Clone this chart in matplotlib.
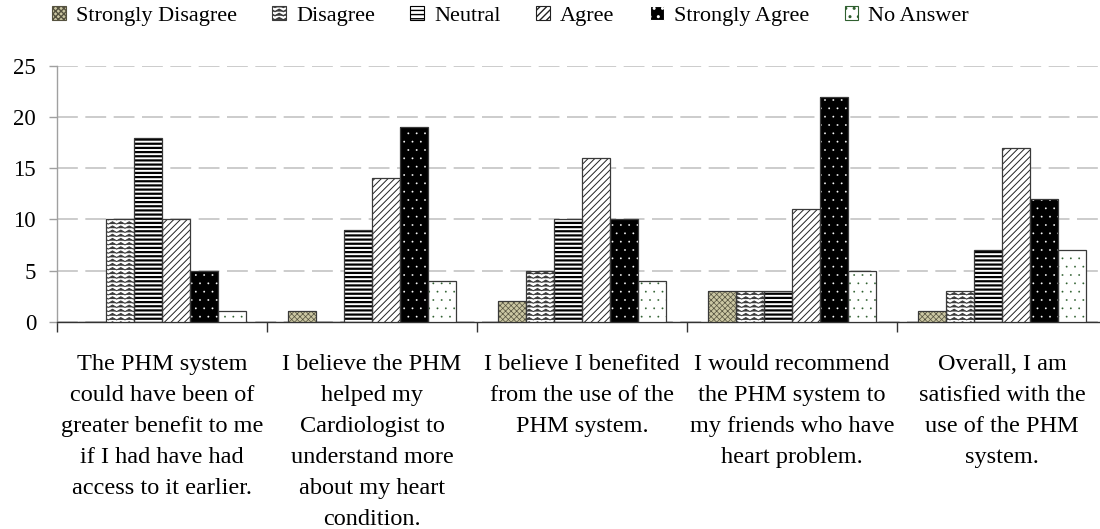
import warnings

import matplotlib

matplotlib.use("Agg")

import matplotlib.hatch as mhatch
import matplotlib.pyplot as plt
import numpy as np
from matplotlib.patches import Patch
from matplotlib.path import Path

warnings.filterwarnings("ignore")

categories = [
    "The PHM system\ncould have been of\ngreater benefit to me\nif I had have had\naccess to it earlier.",
    "I believe the PHM\nhelped my\nCardiologist to\nunderstand more\nabout my heart\ncondition.",
    "I believe I benefited\nfrom the use of the\nPHM system.",
    "I would recommend\nthe PHM system to\nmy friends who have\nheart problem.",
    "Overall, I am\nsatisfied with the\nuse of the PHM\nsystem.",
]
series_names = ["Strongly Disagree", "Disagree", "Neutral", "Agree", "Strongly Agree", "No Answer"]
strongly_disagree = [0, 1, 2, 3, 1]
disagree = [10, 0, 5, 3, 3]
neutral = [18, 9, 10, 3, 7]
agree = [10, 14, 16, 11, 17]
strongly_agree = [5, 19, 10, 22, 12]
no_answer = [1, 4, 4, 5, 7]
y_ticks = [0, 5, 10, 15, 20, 25]


class WaveHatch(mhatch.HatchPatternBase):
    # zigzag rows, 'z' in the hatch string
    periods = 12

    def __init__(self, hatch, density):
        self.num_rows = hatch.count("z") * density
        self.points_per_row = 2 * self.periods + 1
        self.num_vertices = self.num_rows * self.points_per_row

    def set_vertices_and_codes(self, vertices, codes):
        xs = np.linspace(0.0, 1.0, self.points_per_row)
        amp = 0.28 / self.num_rows
        offsets = np.where(np.arange(self.points_per_row) % 2 == 0, -amp, amp)
        for row in range(self.num_rows):
            y0 = (row + 0.5) / self.num_rows
            start = row * self.points_per_row
            chunk = slice(start, start + self.points_per_row)
            vertices[chunk, 0] = xs
            vertices[chunk, 1] = y0 + offsets
            codes[chunk] = Path.LINETO
            codes[start] = Path.MOVETO


mhatch._hatch_types.append(WaveHatch)

plt.rcParams["font.family"] = ["Liberation Serif", "DejaVu Serif"]

styles = [
    dict(face="#cbc7a3", hatch="xxxxxx", hcolor="#55523f", hlw=0.5),
    dict(face="white", hatch="zzzz", hcolor="#3a3a3a", hlw=0.7),
    dict(face="white", hatch="----", hcolor="black", hlw=1.6),
    dict(face="white", hatch="/////", hcolor="#222222", hlw=0.7),
    dict(face="black", hatch="..", hcolor="white", hlw=0.1),
    dict(face="white", hatch="..", hcolor="#2f5f2f", hlw=0.1),
]
values = [strongly_disagree, disagree, neutral, agree, strongly_agree, no_answer]

fig = plt.figure(figsize=(11.0, 5.29), dpi=100)
ax = fig.add_axes([57 / 1100, 0.3919, 1050 / 1100, 0.4834])

x = np.arange(len(categories))
bar_width = 0.8 / len(series_names)

handles = []
for i, (name, vals, st) in enumerate(zip(series_names, values, styles)):
    pos = x - 0.4 + bar_width * (i + 0.5)
    with plt.rc_context({"hatch.linewidth": st["hlw"]}):
        fill = ax.bar(
            pos, vals, bar_width,
            color=st["face"], edgecolor=st["hcolor"], hatch=st["hatch"],
            linewidth=0, zorder=3,
        )
        handle = Patch(facecolor=st["face"], edgecolor=st["hcolor"], hatch=st["hatch"], linewidth=0.8)
    for p in list(fill) + [handle]:
        if hasattr(p, "set_hatch_linewidth"):
            p.set_hatch_linewidth(st["hlw"])
    ax.bar(
        pos, vals, bar_width,
        fill=False, edgecolor="#3a3a3a", linewidth=0.9, zorder=4,
    )
    handles.append(handle)

ax.set_xlim(-0.5, len(categories) - 0.5)
ax.set_ylim(0, 25)
ax.set_yticks(y_ticks)
ax.set_yticklabels([str(t) for t in y_ticks], fontsize=16.5)
ax.yaxis.grid(True, color="#c4c4c4", linestyle=(0, (12.5, 4.5)), linewidth=1.2, zorder=0)
ax.set_axisbelow(True)

ax.set_xticks(np.arange(-0.5, len(categories)), minor=True)
ax.set_xticks(x)
ax.set_xticklabels(categories, fontsize=17.5, linespacing=1.63, va="top")
ax.tick_params(axis="x", which="major", length=0, pad=23)
ax.tick_params(axis="x", which="minor", length=7, width=1.0, color="#333333", direction="out")
ax.tick_params(axis="y", length=6, width=1.0, color="#a0a0a0", pad=9)

for side in ["top", "right"]:
    ax.spines[side].set_visible(False)
ax.spines["left"].set_color("#a0a0a0")
ax.spines["left"].set_linewidth(1.0)
ax.spines["bottom"].set_color("#333333")
ax.spines["bottom"].set_linewidth(1.0)

fig.legend(
    handles, series_names,
    loc="upper left", bbox_to_anchor=(0.033, 1.018), ncol=6, frameon=False,
    fontsize=16, handlelength=0.62, handleheight=0.62, handletextpad=0.45,
    columnspacing=1.6, borderpad=0.2,
)

fig.savefig("out.png", dpi=100)
